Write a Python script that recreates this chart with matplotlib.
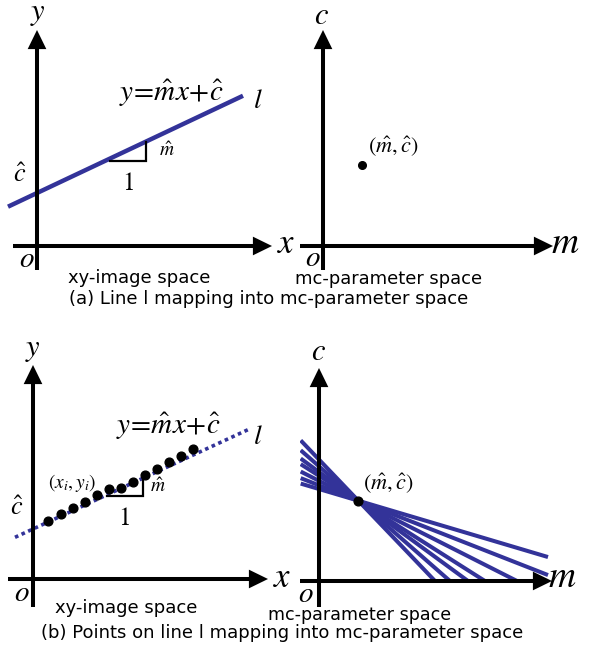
import matplotlib
matplotlib.use("Agg")
import matplotlib.pyplot as plt
import numpy as np

plt.rcParams['mathtext.fontset'] = 'stix'
plt.rcParams['font.family'] = ['DejaVu Sans']

W, H = 602, 661
BLUE = '#333399'

# ---------------- data (panel units: pixels measured from each origin) -------------
# (a) xy-image space: line y = m_hat * x + c_hat
a_m_hat = 0.472
a_c_hat = 53.0
a_line_x = [-29.0, 206.0]
# (a) mc-parameter space: the single point (m_hat, c_hat)
a_point_m = [39.0]
a_point_c = [81.0]

# (b) xy-image space: dotted line and points (x_i, y_i) on it
b_m_hat = 0.462
b_c_hat = 50.0
b_line_x = [-18.0, 215.0]
b_pts_x = [15.3, 27.7, 39.7, 52.0, 64.0, 76.0, 88.0, 99.7, 112.0, 123.7, 136.0, 147.7, 160.3]
b_pts_y = [58.3, 64.7, 70.7, 77.3, 84.3, 90.3, 90.7, 97.3, 104.0, 110.0, 116.7, 123.0, 129.7]
# (b) mc-parameter space: lines c = c_hat - x_i (m - m_hat) through (m_hat, c_hat)
b_mc_m0 = 39.3
b_mc_c0 = 80.3
b_mc_slopes = [1.047, 0.876, 0.732, 0.634, 0.506, 0.392, 0.297]
b_mc_left = -18.3
b_mc_right = 229.0

fig = plt.figure(figsize=(W / 100, H / 100), dpi=100)


def panel(left, top, w, h, ox, oy):
    ax = fig.add_axes([left / W, 1 - (top + h) / H, w / W, h / H])
    ax.set_xlim(left - ox, left + w - ox)
    ax.set_ylim(oy - (top + h), oy - top)
    ax.axis('off')
    return ax


def arrow(ax, start, tip):
    ax.annotate('', xy=tip, xytext=start,
                arrowprops=dict(arrowstyle='-|>,head_length=0.45,head_width=0.22',
                                lw=2.9, color='black', shrinkA=0, shrinkB=0,
                                mutation_scale=20, joinstyle='miter', capstyle='butt'),
                annotation_clip=False)


def mt(ax, x, y, s, size, **kw):
    ax.text(x, y, s, fontsize=size, ha='center', va='center', **kw)


def caption(xc, yc, s, width_px):
    t = fig.text(xc / W, 1 - yc / H, s, ha='center', va='center', fontsize=12,
                 family='DejaVu Sans')
    fig.canvas.draw()
    r = fig.canvas.get_renderer()
    wpx = t.get_window_extent(r).width
    t.set_fontsize(12 * width_px / wpx)


# ---------------- (a) left ----------------
ax1 = panel(0, 0, 300, 270, 37, 246)
arrow(ax1, (0, -24), (0, 216))
arrow(ax1, (-24, 0), (235, 0))
xs = np.array(a_line_x)
ax1.plot(xs, a_m_hat * xs + a_c_hat, color=BLUE, lw=3.2, solid_capstyle='butt')
tx0, run = 73.0, 36.0
ty0 = a_m_hat * tx0 + a_c_hat - 2.5
ax1.plot([tx0, tx0 + run, tx0 + run], [ty0, ty0, a_m_hat * (tx0 + run) + a_c_hat],
         color='black', lw=1.6, solid_joinstyle='miter')
mt(ax1, 1, 232, r'$y$', 22)
mt(ax1, 249, 3, r'$x$', 25)
mt(ax1, -10, -13, r'$o$', 21)
mt(ax1, 221, 146, r'$l$', 20)
mt(ax1, -17, 71, r'$\hat{c}$', 19)
mt(ax1, 134, 153, r'$y\!=\!\hat{m}x\!+\!\hat{c}$', 21)
mt(ax1, 130, 95, r'$\hat{m}$', 14)
mt(ax1, 91, 63, r'$\mathrm{1}$', 18)

# ---------------- (a) right ----------------
ax2 = panel(300, 0, 302, 270, 323, 246)
arrow(ax2, (0, -24), (0, 216))
arrow(ax2, (-23, 0), (230, 0))
ax2.plot(a_point_m, a_point_c, 'o', color='black', ms=5.5)
mt(ax2, -2, 231, r'$c$', 22)
mt(ax2, 242, 3, r'$m$', 27)
mt(ax2, -10, -12, r'$o$', 21)
mt(ax2, 70, 100, r'$(\hat{m},\hat{c})$', 16)

# ---------------- (b) left ----------------
ax3 = panel(0, 330, 300, 280, 33, 579)
arrow(ax3, (0, -28), (0, 214))
arrow(ax3, (-25, 0), (235, 0))
xs = np.array(b_line_x)
ax3.plot(xs, b_m_hat * xs + b_c_hat, color=BLUE, lw=2.6, linestyle=(0, (1.0, 1.0)),
         dash_capstyle='butt')
ax3.plot(b_pts_x, b_pts_y, 'o', color='black', ms=6.3, zorder=5)
tx0, run = 74.0, 36.0
ax3.plot([tx0, tx0 + run, tx0 + run], [83.3, 83.3, 102.3],
         color='black', lw=1.6, solid_joinstyle='miter')
mt(ax3, 0, 229, r'$y$', 22)
mt(ax3, 249, 2, r'$x$', 25)
mt(ax3, -11, -14, r'$o$', 21)
mt(ax3, 225, 143, r'$l$', 20)
mt(ax3, -16, 71, r'$\hat{c}$', 19)
mt(ax3, 135, 153, r'$y\!=\!\hat{m}x\!+\!\hat{c}$', 21)
mt(ax3, 125, 93, r'$\hat{m}$', 14)
mt(ax3, 91, 61, r'$\mathrm{1}$', 18)
mt(ax3, 39, 96, r'$(x_i,y_i)$', 14)

# ---------------- (b) right ----------------
ax4 = panel(300, 330, 302, 280, 319, 581)
for s in b_mc_slopes:
    m_end = min(b_mc_right, b_mc_m0 + b_mc_c0 / s)
    ms_ = np.array([b_mc_left, m_end])
    ax4.plot(ms_, b_mc_c0 - s * (ms_ - b_mc_m0), color=BLUE, lw=2.9,
             solid_capstyle='butt')
arrow(ax4, (0, -26), (0, 213))
arrow(ax4, (-19, 0), (233, 0))
ax4.plot([b_mc_m0], [b_mc_c0], 'o', color='black', ms=6.3, zorder=5)
mt(ax4, -1, 229, r'$c$', 22)
mt(ax4, 243, 4, r'$m$', 27)
mt(ax4, -13, -13, r'$o$', 21)
mt(ax4, 69, 98, r'$(\hat{m},\hat{c})$', 16)

# ---------------- captions ----------------
caption(139, 278, 'xy-image space', 142)
caption(389, 279, 'mc-parameter space', 185)
caption(269, 299, '(a) Line l mapping into mc-parameter space', 399)
caption(126, 608, 'xy-image space', 142)
caption(360, 615, 'mc-parameter space', 140 * 185 / 142)
caption(282, 633, '(b) Points on line l mapping into mc-parameter space', 479)

fig.savefig('out.png', dpi=100)
